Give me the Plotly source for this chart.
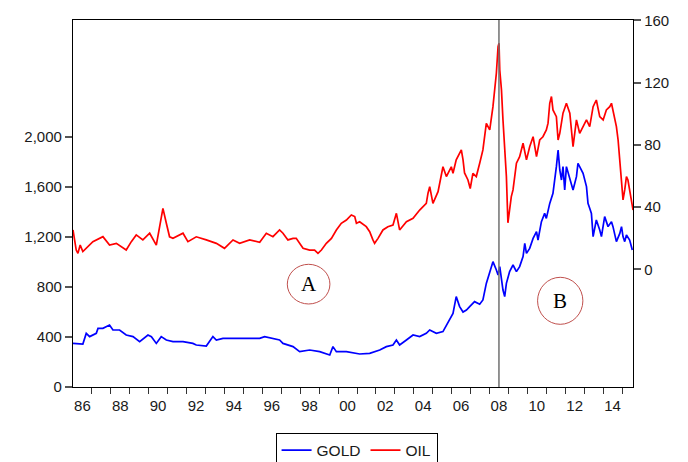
import pandas as pd
import plotly.graph_objects as go

# ---- data (decimal year, value) ----
oil_t = [1986.00, 1986.17, 1986.26, 1986.38, 1986.52, 1986.70, 1987.05, 1987.58, 1987.93, 1988.29,
         1988.81, 1989.08, 1989.34, 1989.69, 1990.05, 1990.40, 1990.66, 1990.75, 1990.93, 1991.10,
         1991.28, 1991.81, 1992.07, 1992.51, 1993.04, 1993.57, 1994.00, 1994.45, 1994.80, 1995.33,
         1995.86, 1996.21, 1996.56, 1996.91, 1997.09, 1997.35, 1997.62, 1997.79, 1998.15, 1998.50,
         1998.76, 1998.94, 1999.12, 1999.38, 1999.65, 1999.91, 2000.17, 2000.44, 2000.70, 2000.88,
         2000.97, 2001.14, 2001.49, 2001.67, 2001.84, 2001.93, 2002.11, 2002.37, 2002.63, 2002.90,
         2003.08, 2003.25, 2003.61, 2003.96, 2004.31, 2004.48, 2004.66, 2004.75, 2004.84, 2005.01,
         2005.28, 2005.54, 2005.72, 2005.98, 2006.07, 2006.24, 2006.51, 2006.60, 2006.68, 2006.86,
         2006.98, 2007.12, 2007.30, 2007.48, 2007.65, 2007.83, 2008.01, 2008.18, 2008.36, 2008.45,
         2008.50, 2008.54, 2008.63, 2008.71, 2008.89, 2008.97, 2009.06, 2009.15, 2009.24, 2009.42,
         2009.59, 2009.77, 2009.95, 2010.12, 2010.30, 2010.48, 2010.65, 2010.82, 2011.00, 2011.09,
         2011.18, 2011.27, 2011.35, 2011.53, 2011.62, 2011.71, 2011.88, 2012.06, 2012.24, 2012.41,
         2012.59, 2012.76, 2013.12, 2013.29, 2013.47, 2013.64, 2013.82, 2014.00, 2014.17, 2014.35,
         2014.44, 2014.52, 2014.61, 2014.70, 2014.79, 2014.88, 2014.97, 2015.05, 2015.14, 2015.23,
         2015.31, 2015.40, 2015.49, 2015.58]
oil_v = [25.4, 12.5, 10.4, 15.7, 11.5, 13.6, 17.9, 21.1, 15.7, 16.8,
         12.5, 17.9, 22.2, 19.0, 23.3, 15.7, 31.8, 39.3, 29.7, 21.0,
         20.0, 23.3, 17.9, 21.0, 19.0, 16.8, 13.6, 19.0, 16.8, 19.0,
         17.5, 23.3, 21.1, 25.4, 23.3, 19.0, 20.0, 20.0, 13.6, 12.5,
         12.5, 10.4, 12.5, 16.8, 20.0, 25.4, 29.7, 31.8, 35.0, 34.0,
         29.7, 30.7, 27.5, 24.3, 19.0, 16.8, 20.0, 25.4, 27.5, 28.6,
         36.1, 25.4, 30.7, 32.9, 38.2, 40.4, 42.5, 49.0, 53.2, 42.5,
         50.0, 66.0, 59.7, 66.0, 61.8, 70.4, 76.8, 70.4, 62.0, 57.5,
         52.0, 61.8, 59.7, 68.3, 76.8, 93.9, 89.7, 104.6, 126.1, 143.2,
         145.4, 128.2, 115.4, 96.1, 59.7, 30.0, 40.4, 46.8, 51.1, 68.3,
         72.5, 81.1, 70.4, 78.9, 85.3, 72.5, 83.2, 85.3, 89.7, 94.0,
         106.8, 111.1, 102.5, 98.2, 83.2, 87.5, 100.4, 106.8, 100.4, 78.9,
         96.1, 87.5, 96.1, 91.8, 104.6, 108.9, 98.2, 96.1, 102.5, 104.6,
         106.8, 102.5, 98.2, 91.8, 83.2, 70.4, 53.2, 44.7, 51.1, 59.7,
         57.5, 51.1, 46.8, 38.2]

gold_t = [1986.00, 1986.52, 1986.70, 1986.88, 1987.23, 1987.32, 1987.58, 1987.93, 1988.11, 1988.46,
          1988.81, 1989.17, 1989.52, 1989.96, 1990.14, 1990.40, 1990.66, 1990.93, 1991.28, 1991.81,
          1992.33, 1992.51, 1993.04, 1993.39, 1993.57, 1993.92, 1994.45, 1995.15, 1995.86, 1996.12,
          1996.56, 1996.91, 1997.09, 1997.62, 1997.97, 1998.50, 1999.03, 1999.38, 1999.56, 1999.73,
          1999.91, 2000.44, 2001.14, 2001.67, 2002.20, 2002.55, 2002.90, 2003.08, 2003.25, 2003.61,
          2003.96, 2004.31, 2004.66, 2004.84, 2005.19, 2005.54, 2005.89, 2006.07, 2006.24, 2006.42,
          2006.60, 2006.78, 2006.95, 2007.21, 2007.48, 2007.65, 2007.83, 2008.01, 2008.18, 2008.36,
          2008.45, 2008.54, 2008.63, 2008.71, 2008.80, 2008.89, 2009.06, 2009.24, 2009.42, 2009.59,
          2009.77, 2009.86, 2009.95, 2010.12, 2010.30, 2010.48, 2010.56, 2010.74, 2010.91, 2011.00,
          2011.18, 2011.35, 2011.53, 2011.62, 2011.71, 2011.80, 2011.88, 2011.97, 2012.06, 2012.24,
          2012.41, 2012.59, 2012.67, 2012.76, 2012.94, 2013.12, 2013.20, 2013.29, 2013.38, 2013.47,
          2013.55, 2013.64, 2013.82, 2013.91, 2014.08, 2014.26, 2014.44, 2014.52, 2014.70, 2014.88,
          2014.97, 2015.05, 2015.14, 2015.23, 2015.40, 2015.54]
gold_v = [349, 344, 429, 403, 429, 469, 469, 496, 456, 456,
          416, 403, 363, 416, 403, 349, 403, 376, 363, 363,
          349, 336, 328, 403, 376, 389, 389, 389, 389, 403,
          385, 376, 349, 323, 283, 296, 283, 264, 256, 323,
          283, 283, 264, 269, 296, 323, 336, 376, 336, 376,
          416, 403, 429, 456, 429, 443, 536, 589, 723, 643,
          600, 616, 643, 683, 662, 696, 829, 923, 1003, 936,
          896, 963, 856, 776, 723, 829, 923, 976, 923, 963,
          1043, 1149, 1069, 1109, 1189, 1243, 1176, 1323, 1389, 1349,
          1469, 1549, 1763, 1896, 1736, 1656, 1763, 1576, 1763, 1656,
          1576, 1683, 1789, 1763, 1709, 1603, 1469, 1430, 1389, 1203,
          1283, 1336, 1256, 1203, 1363, 1283, 1323, 1283, 1163, 1229,
          1283, 1203, 1163, 1216, 1176, 1096]

x_labels = ["86", "88", "90", "92", "94", "96", "98", "00", "02", "04", "06", "08", "10", "12", "14"]
label_years = list(range(1986, 2015, 2))
gold_ticks = [0, 400, 800, 1200, 1600, 2000]
oil_ticks = [0, 40, 80, 120, 160]
event_date = "2008-07-01"


def to_date(y):
    return pd.Timestamp("1986-01-01") + pd.to_timedelta((y - 1986) * 365.25, unit="D")


oil_x = [to_date(t) for t in oil_t]
gold_x = [to_date(t) for t in gold_t]

FONT = "Liberation Sans, Arial, sans-serif"
SERIF = "Liberation Serif, Times New Roman, serif"

fig = go.Figure()
fig.add_trace(go.Scatter(x=gold_x, y=gold_v, name="GOLD", mode="lines",
                         line=dict(color="#0000FF", width=1.7), yaxis="y"))
fig.add_trace(go.Scatter(x=oil_x, y=oil_v, name="OIL", mode="lines",
                         line=dict(color="#FF0000", width=1.7), yaxis="y2"))

fig.update_layout(
    width=680, height=462,
    margin=dict(l=65, r=55, t=12, b=83, autoexpand=False),
    paper_bgcolor="white", plot_bgcolor="white",
    font=dict(family=FONT, size=15, color="#1a1a1a"),
    showlegend=True,
    legend=dict(orientation="h", xref="container", yref="container",
                x=0.5126, xanchor="center", y=0.081, yanchor="top",
                bordercolor="#000000", borderwidth=1, font=dict(size=15.5),
                itemwidth=30, bgcolor="white"),
    xaxis=dict(
        type="date",
        range=["1986-01-01", "2015-07-31"],
        tickmode="array",
        tickvals=[f"{y}-07-01" for y in label_years],
        ticktext=x_labels,
        ticks="outside", ticklen=5, tickcolor="rgba(0,0,0,0)",
        showgrid=False, zeroline=False, automargin=False,
        showline=True, linecolor="#000000", linewidth=1.3, mirror=True,
        minor=dict(tickmode="array",
                   tickvals=[f"{y}-01-01" for y in range(1987, 2016)],
                   ticks="outside", ticklen=6, tickcolor="#333333", tickwidth=1),
    ),
    yaxis=dict(
        range=[0, 2936],
        tickmode="array", tickvals=gold_ticks, tickformat=",d",
        ticks="outside", ticklen=7, tickcolor="#555555", tickwidth=1.5,
        showgrid=False, zeroline=False, automargin=False,
        showline=True, linecolor="#000000", linewidth=1.3,
    ),
    yaxis2=dict(
        range=[-75.5, 160.3], overlaying="y", side="right",
        tickmode="array", tickvals=oil_ticks,
        ticks="outside", ticklen=7, tickcolor="#555555", tickwidth=1.5,
        showgrid=False, zeroline=False, automargin=False,
        showline=True, linecolor="#000000", linewidth=1.3,
    ),
)

# vertical event line
fig.add_shape(type="line", xref="x", yref="paper", x0=event_date, x1=event_date, y0=0, y1=1,
              line=dict(color="#707070", width=1.5))

# circled labels
circ = dict(color="#C0504D", width=1)
fig.add_shape(type="circle", xref="paper", yref="paper",
              x0=0.3827, x1=0.4588, y0=0.2262, y1=0.3343, line=circ)
fig.add_shape(type="circle", xref="paper", yref="paper",
              x0=0.8296, x1=0.9105, y0=0.1708, y1=0.2989, line=circ)
fig.add_annotation(text="A", xref="paper", yref="paper", x=0.4207, y=0.2800,
                   xanchor="center", yanchor="middle", showarrow=False,
                   font=dict(family=SERIF, size=21, color="#000000"))
fig.add_annotation(text="B", xref="paper", yref="paper", x=0.8700, y=0.2349,
                   xanchor="center", yanchor="middle", showarrow=False,
                   font=dict(family=SERIF, size=21, color="#000000"))

fig.write_html("out.html")
